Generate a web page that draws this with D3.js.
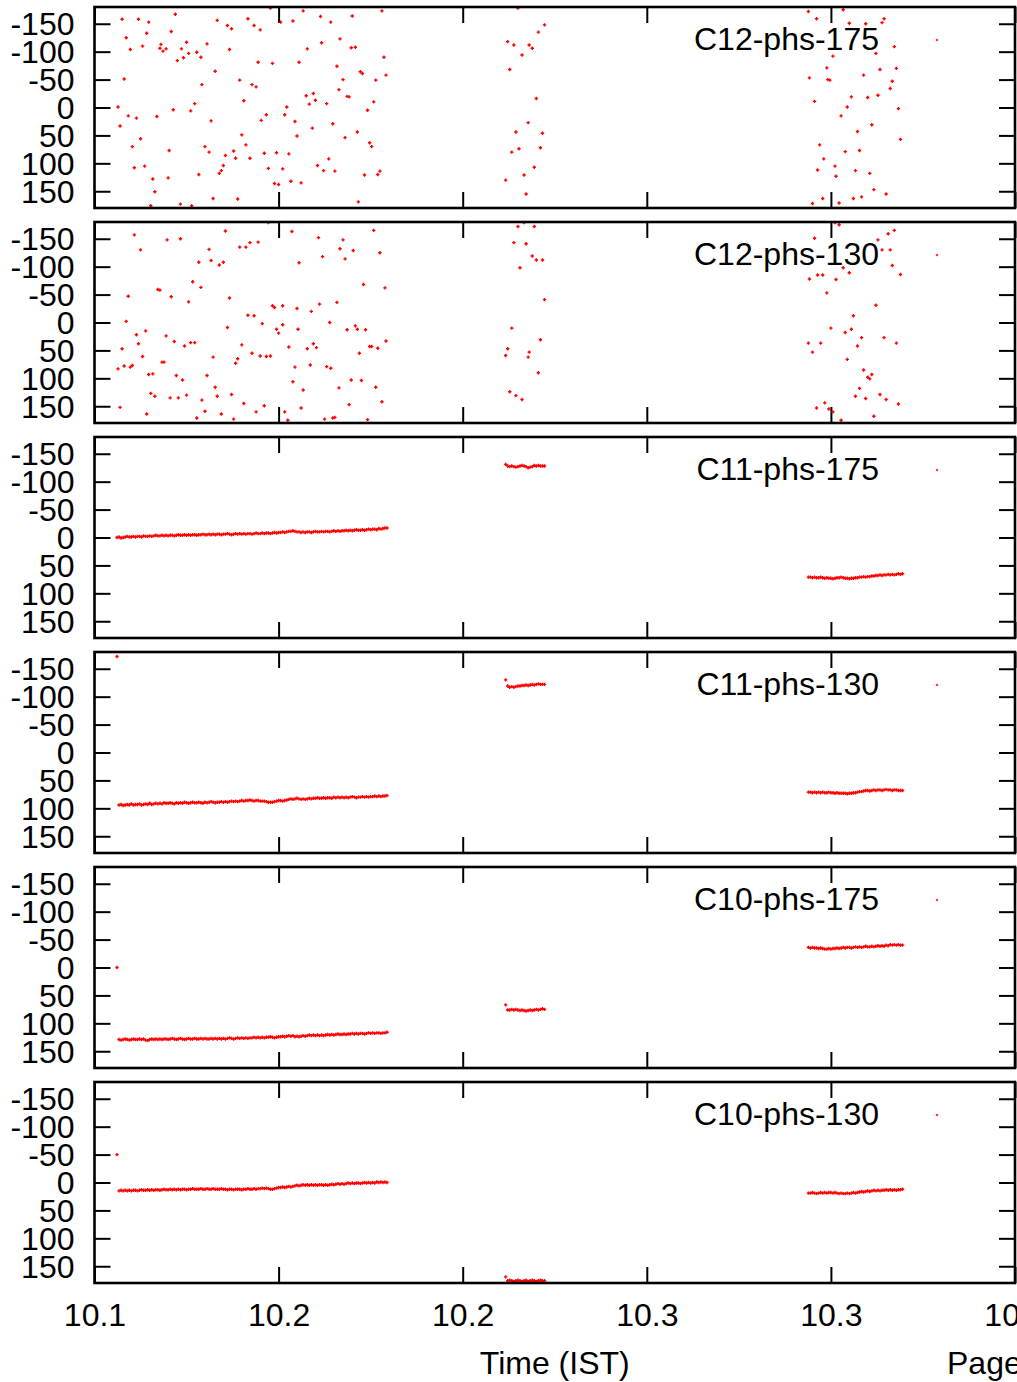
<!DOCTYPE html>
<html>
<head>
<meta charset="utf-8">
<script src="https://cdn.jsdelivr.net/npm/d3@7/dist/d3.min.js"></script>
<style>
  html, body { margin: 0; padding: 0; background: #fff; }
  svg { display: block; }
</style>
</head>
<body>
<svg id="chart" width="1017" height="1382"></svg>
<script>
// ---------------- DATA ----------------
// time in seconds after 10:00 IST (converted to decimal hours for the axis)
const xTickVals = [10.10, 10.15, 10.20, 10.25, 10.30, 10.35];
const xTickLabels = ["10.1", "10.2", "10.2", "10.3", "10.3", "10.4"];
const yTickVals = [-150, -100, -50, 0, 50, 100, 150];
const yTickLabels = ["-150", "-100", "-50", "0", "50", "100", "150"];
const panelNames = ["C12-phs-175", "C12-phs-130", "C11-phs-175", "C11-phs-130", "C10-phs-175", "C10-phs-130"];

const timeA = [382,384,386,388,390,392,394,396,398,400,
  402,404,406,408,410,412,414,416,418,420,
  422,424,426,428,430,432,434,436,438,440,
  442,444,446,448,450,452,454,456,458,460,
  462,464,466,468,470,472,474,476,478,480,
  482,484,486,488,490,492,494,496,498,500,
  502,504,506,508,510,512,514,516,518,520,
  522,524,526,528,530,532,534,536,538,540,
  542,544,546,548,550,552,554,556,558,560,
  562,564,566,568,570,572,574,576,578,580,
  582,584,586,588,590,592,594,596,598,600,
  602,604,606,608,610,612,614,616,618,620,
  622,624,626,628,630,632,634,636,638,640,
  642,644,646];
const timeB = [762,764,766,768,770,772,774,776,778,780,782,784,786,788,790,792,794,796,798,800];
const timeC = [1058,1060,1062,1064,1066,1068,1070,1072,1074,1076,
  1078,1080,1082,1084,1086,1088,1090,1092,1094,1096,
  1098,1100,1102,1104,1106,1108,1110,1112,1114,1116,
  1118,1120,1122,1124,1126,1128,1130,1132,1134,1136,
  1138,1140,1142,1144,1146,1148,1150];

// C12 channels: scattered phase, [seconds, degrees]
const c12phs175 = [
  [387,-158],[403,-158],[413,-153],[439,-167],[480,-156],[490,-147],[494,-141],[510,-159],[516,-147],[522,-139],
  [532,-178],[542,-153],[554,-155],[564,-173],[581,-163],[591,-153],[612,-164],[641,-173],
  [391,-125],[395,-104],[407,-110],[411,-133],[435,-136],[424,-106],[425,-113],[427,-101],[430,-105],[441,-84],
  [445,-105],[447,-89],[450,-117],[452,-97],[460,-99],[464,-90],[470,-114],[492,-104],[520,-81],[534,-79],
  [560,-81],[568,-105],[582,-116],[597,-74],[600,-123],[611,-107],[615,-108],[643,-90],
  [389,-51],[478,-65],[465,-41],[502,-49],[506,-12],[514,-41],[518,-37],[620,-64],[622,-61],[635,-49],
  [645,-58],[603,-50],[599,-32],[574,-25],[567,-21],[576,-13],[570,-6],[587,-7],[607,-20],[609,-19],
  [383,-1],[393,15],[401,19],[421,16],[437,4],[454,6],[458,-7],[474,24],[523,23],[528,13],
  [546,13],[548,-1],[556,25],[627,5],[633,-10],[593,29],[573,37],[558,51],
  [385,33],[397,70],[405,56],[433,77],[468,70],[472,80],[504,49],[508,67],[496,78],[488,86],
  [498,91],[512,91],[526,82],[538,81],[550,83],[589,92],[605,54],[617,44],[629,63],[631,70],
  [399,108],[409,105],[417,128],[432,126],[462,120],[482,118],[484,113],[486,104],[530,109],[544,110],
  [578,104],[584,113],[595,114],[624,121],[637,120],[639,114],
  [419,151],[415,176],[444,173],[455,176],[476,163],[500,164],[536,136],[540,138],[552,132],[562,135],[618,169],
  [774,-178],[800,-148],[794,-135],[764,-118],[770,-112],[785,-112],[788,-106],[778,-94],[766,-68],[792,-16],
  [784,27],[772,44],[798,46],[796,72],[768,80],[775,74],[790,107],[780,121],[762,130],[782,155],
  [1058,-172],[1066,-159],[1092,-175],[1098,-151],[1114,-150],[1130,-152],[1132,-159],[1142,-109],[1124,-97],[1082,-92],
  [1076,-71],[1059,-53],[1077,-50],[1079,-49],[1112,-58],[1128,-68],[1144,-70],[1140,-47],[1138,-34],[1126,-22],
  [1116,-18],[1100,-19],[1064,-11],[1096,-1],[1146,2],[1090,15],[1120,31],[1106,43],[1148,57],[1069,67],
  [1094,79],[1108,77],[1073,92],[1067,112],[1084,105],[1085,123],[1104,113],[1118,118],[1122,147],[1134,155],
  [1110,160],[1102,163],[1072,163],[1062,172],[1088,171]
];
const c12phs130 = [
  [399,-157],[431,-148],[444,-150],[488,-164],[530,-179],[553,-163],[579,-152],[603,-148],[600,-132],[613,-129],
  [633,-165],[639,-125],[605,-114],[583,-118],[560,-107],[405,-130],[472,-131],[474,-111],[462,-108],[482,-103],
  [486,-108],[502,-135],[508,-135],[512,-143],[520,-144],[456,-73],[464,-63],[422,-59],[424,-58],[393,-47],
  [435,-46],[452,-37],[492,-44],[623,-68],[644,-62],[534,-30],[536,-27],[544,-30],[558,-25],[572,-20],
  [580,-33],[597,-36],[510,-13],[516,-12],[391,-2],[524,2],[590,0],[544,4],[538,12],[540,19],
  [490,9],[559,12],[607,13],[615,6],[617,12],[625,13],[410,15],[401,22],[430,24],[403,38],
  [387,47],[438,34],[448,42],[454,36],[458,36],[407,61],[426,71],[428,71],[383,83],[389,78],
  [395,80],[397,77],[476,62],[504,40],[514,55],[522,60],[528,61],[532,60],[498,73],[500,65],
  [550,44],[568,47],[574,38],[577,45],[571,76],[556,80],[587,79],[591,82],[619,55],[629,43],
  [631,43],[637,46],[645,33],[413,93],[417,92],[440,95],[446,103],[470,95],[478,116],[554,106],
  [564,121],[599,117],[611,103],[621,104],[635,116],[415,127],[419,132],[434,135],[442,135],[450,130],
  [480,132],[494,129],[506,145],[465,139],[526,149],[518,160],[385,152],[411,164],[468,159],[484,164],
  [460,171],[496,173],[546,160],[549,175],[562,153],[585,173],[593,171],[595,170],[609,147],[627,174],[641,142],
  [780,-179],[774,-172],[790,-172],[770,-143],[782,-141],[788,-119],[792,-112],[798,-112],[776,-98],[800,-41],
  [768,10],[796,31],[764,47],[762,59],[785,53],[784,62],[794,90],[766,124],[772,131],[778,138],
  [1084,-179],[1088,-175],[1064,-151],[1136,-159],[1142,-165],[1126,-148],[1130,-130],[1138,-130],[1140,-102],[1148,-86],
  [1092,-98],[1098,-89],[1059,-78],[1067,-85],[1072,-85],[1085,-77],[1076,-53],[1124,-31],[1102,-12],[1080,10],
  [1094,18],[1100,12],[1110,27],[1132,27],[1144,37],[1058,37],[1070,37],[1062,53],[1106,42],[1096,66],
  [1112,85],[1116,98],[1118,101],[1120,93],[1108,118],[1104,132],[1114,136],[1128,129],[1134,138],[1146,146],
  [1066,153],[1074,144],[1078,155],[1082,160],[1122,168],[1090,175]
];

// C11 / C10 channels: phase (degrees) at timeA / timeB / timeC
const c11phs175A = [0,-1,1,0,-1,-2,-1,-1,-2,-1,
  -2,-2,-1,-3,-2,-2,-3,-2,-3,-4,
  -3,-3,-4,-3,-4,-3,-4,-4,-3,-4,
  -5,-4,-4,-5,-4,-5,-4,-5,-5,-4,
  -5,-5,-6,-5,-5,-6,-5,-6,-5,-6,
  -6,-5,-6,-6,-7,-6,-5,-6,-7,-6,
  -7,-6,-7,-6,-7,-7,-6,-7,-8,-7,
  -7,-8,-7,-8,-8,-7,-8,-9,-8,-9,
  -9,-10,-9,-10,-11,-11,-12,-11,-10,-10,
  -9,-10,-9,-10,-10,-9,-10,-11,-10,-10,
  -11,-10,-11,-11,-10,-11,-12,-11,-12,-11,
  -12,-12,-13,-12,-13,-12,-13,-14,-13,-13,
  -14,-13,-14,-15,-14,-15,-15,-14,-16,-15,
  -16,-17,-17];
const c11phs175B = [-131,-128,-127,-128,-127,-126,-127,-128,-129,-128,-127,-125,-126,-127,-129,-128,-129,-128,-128,-128];
const c11phs175C = [71,71,72,71,72,72,71,72,73,72,73,73,74,73,72,72,71,72,73,73,
  74,73,73,72,72,71,71,70,71,70,70,69,69,68,68,67,68,67,67,66,
  67,66,67,66,65,66,65];

const c11phs130A = [-172,94,93,95,94,93,94,92,94,93,
  93,92,94,93,92,93,91,93,92,91,
  92,91,92,90,91,91,90,91,92,90,
  91,90,91,89,90,91,90,89,90,90,
  89,90,91,89,90,89,88,89,90,89,
  89,88,89,88,89,88,87,88,87,88,
  87,86,87,86,86,85,86,87,86,86,
  87,87,87,88,89,89,89,88,87,86,
  86,87,86,85,84,83,84,83,82,83,
  84,83,84,83,82,83,82,82,81,82,
  82,81,82,81,81,82,80,81,80,81,
  80,81,80,81,80,79,80,81,80,80,
  79,80,79,80,79,79,78,79,78,79,
  78,78,77];
const c11phs130B = [-130,-119,-117,-118,-117,-118,-119,-119,-120,-120,-121,-120,-121,-122,-121,-122,-123,-122,-122,-122];
const c11phs130C = [71,71,72,71,72,71,72,71,72,72,71,72,72,73,72,73,73,73,73,74,
  73,73,72,72,71,70,70,69,68,68,69,68,67,68,67,67,68,67,66,67,
  67,68,67,67,68,68,68];

const c10phs175A = [0,129,130,129,128,129,130,129,128,129,
  129,128,129,128,130,131,129,128,129,128,
  129,128,129,128,128,129,128,127,128,129,
  128,127,128,129,128,127,128,128,127,128,
  128,127,128,127,128,128,127,128,127,128,
  127,128,127,128,127,126,127,128,127,126,
  127,126,127,126,127,126,126,125,126,125,
  126,125,126,125,125,124,125,126,125,124,
  124,123,124,123,122,123,122,124,123,124,
  123,122,123,122,121,122,121,122,121,122,
  121,122,121,120,121,120,121,120,119,120,
  120,119,120,119,119,118,119,118,119,118,
  118,119,118,117,118,117,118,117,117,118,
  117,117,116];
const c10phs175B = [67,76,76,75,76,75,76,77,76,77,78,77,76,77,76,75,76,75,74,75];
const c10phs175C = [-36,-35,-36,-35,-35,-34,-35,-34,-33,-33,-34,-33,-34,-34,-35,-34,-35,-36,-35,-36,
  -36,-35,-36,-37,-36,-37,-36,-37,-38,-37,-37,-38,-37,-38,-39,-38,-39,-38,-40,-39,
  -41,-40,-41,-40,-41,-40,-40];

const c10phs130A = [-50,15,14,15,14,15,14,15,14,14,
  15,14,13,14,14,13,14,13,14,13,
  13,14,13,12,13,13,12,13,12,13,
  12,13,12,12,13,12,12,11,12,12,
  12,11,12,12,11,12,12,11,12,12,
  12,11,12,12,13,12,12,13,12,12,
  12,13,12,12,11,12,12,11,12,11,
  11,10,11,10,11,12,12,11,10,9,
  9,8,9,8,7,8,7,6,5,6,
  5,4,5,4,5,4,5,4,5,4,
  4,5,4,5,4,3,4,3,2,3,
  2,3,2,1,2,1,2,1,1,2,
  1,0,1,0,1,0,1,-1,0,-1,
  0,-1,0];
const c10phs130B = [169,176,175,176,177,176,175,176,177,176,175,177,176,175,176,177,176,175,176,176];
const c10phs130C = [19,19,18,19,20,19,18,19,18,19,18,18,19,18,19,20,19,20,20,19,
  20,19,18,19,18,17,16,17,16,15,16,15,14,15,14,15,14,14,13,14,
  13,14,13,14,13,13,12];

// ---------------- BUILD ----------------
function zipSeries(times, vals) {
  const n = Math.min(times.length, vals.length);
  const out = [];
  for (let i = 0; i < n; i++) out.push([times[i], vals[i]]);
  return out;
}
const panelData = [
  c12phs175,
  c12phs130,
  [].concat(zipSeries(timeA, c11phs175A), zipSeries(timeB, c11phs175B), zipSeries(timeC, c11phs175C)),
  [].concat(zipSeries(timeA, c11phs130A), zipSeries(timeB, c11phs130B), zipSeries(timeC, c11phs130C)),
  [].concat(zipSeries(timeA, c10phs175A), zipSeries(timeB, c10phs175B), zipSeries(timeC, c10phs175C)),
  [].concat(zipSeries(timeA, c10phs130A), zipSeries(timeB, c10phs130B), zipSeries(timeC, c10phs130C))
];

const FONT = "'Liberation Sans', Arial, Helvetica, sans-serif";
const FS = 32;
const svg = d3.select("#chart");
svg.append("rect").attr("width", 1017).attr("height", 1382).attr("fill", "#fff");

const x0 = 94.5, x1 = 1015;
const panelTop0 = 7, panelStep = 215, panelH = 201;
const x = d3.scaleLinear().domain([10.10, 10.35]).range([x0, x1]);
const toHours = s => 10 + s / 3600;

function plusPath(px, py, r) {
  return `M${px - r},${py}h${2 * r}M${px},${py - r}v${2 * r}`;
}

function styleAxis(g) {
  g.select(".domain").remove();
  g.selectAll(".tick line").attr("stroke", "#000").attr("stroke-width", 2);
  g.selectAll(".tick text").attr("fill", "#000").style("font-family", FONT).style("font-size", FS + "px");
}

panelNames.forEach((name, pi) => {
  const top = panelTop0 + pi * panelStep;
  const bot = top + panelH;
  const y = d3.scaleLinear().domain([-180, 180]).range([top, bot]);
  const g = svg.append("g");

  const clipId = "clip" + pi;
  svg.append("clipPath").attr("id", clipId)
    .append("rect").attr("x", x0).attr("y", top).attr("width", x1 - x0).attr("height", bot - top);

  // axes (gnuplot-style inward ticks, mirrored)
  g.append("g").attr("transform", `translate(${x0},0)`)
    .call(d3.axisLeft(y).tickValues(yTickVals).tickFormat((d, i) => yTickLabels[i])
      .tickSizeInner(-16).tickSizeOuter(0).tickPadding(20))
    .call(styleAxis)
    .call(a => a.selectAll(".tick text").attr("dy", "0.35em"));
  g.append("g").attr("transform", `translate(${x1},0)`)
    .call(d3.axisRight(y).tickValues(yTickVals).tickFormat("").tickSizeInner(-16).tickSizeOuter(0))
    .call(styleAxis);
  g.append("g").attr("transform", `translate(0,${top})`)
    .call(d3.axisTop(x).tickValues(xTickVals).tickFormat("").tickSizeInner(-16).tickSizeOuter(0))
    .call(styleAxis);
  const isLast = pi === panelNames.length - 1;
  g.append("g").attr("transform", `translate(0,${bot})`)
    .call(d3.axisBottom(x).tickValues(xTickVals)
      .tickFormat(isLast ? ((d, i) => xTickLabels[i]) : "")
      .tickSizeInner(-16).tickSizeOuter(0).tickPadding(20))
    .call(styleAxis);

  // points
  g.append("g").attr("clip-path", `url(#${clipId})`)
    .selectAll("path").data(panelData[pi]).join("path")
    .attr("d", d => plusPath(x(toHours(d[0])), y(d[1]), 1.7))
    .attr("fill", "none").attr("stroke", "#ff0000").attr("stroke-width", 1.4);

  // frame
  g.append("rect").attr("x", x0).attr("y", top).attr("width", x1 - x0).attr("height", bot - top)
    .attr("fill", "none").attr("stroke", "#000").attr("stroke-width", 2.6);

  // key
  g.append("text").attr("x", 879).attr("y", top + 43).attr("text-anchor", "end")
    .style("font-family", FONT).style("font-size", FS + "px").attr("fill", "#000").text(name);
  g.append("path").attr("d", plusPath(937, top + 33, 1.2))
    .attr("fill", "none").attr("stroke", "#ff0000").attr("stroke-width", 1);
});

svg.append("text").attr("x", (x0 + x1) / 2).attr("y", 1374).attr("text-anchor", "middle")
  .style("font-family", FONT).style("font-size", FS + "px").attr("fill", "#000").text("Time (IST)");
svg.append("text").attr("x", 947).attr("y", 1374).attr("text-anchor", "start")
  .style("font-family", FONT).style("font-size", FS + "px").attr("fill", "#000").text("Page 1");
</script>
</body>
</html>
